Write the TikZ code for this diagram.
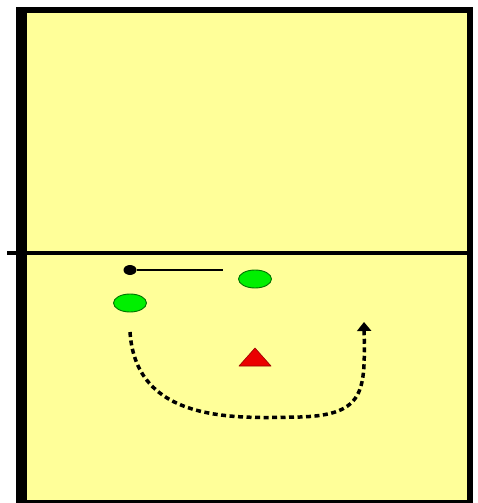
\documentclass[tikz,border=0pt]{standalone}
\usetikzlibrary{arrows.meta,shapes.geometric}

\definecolor{courtyellow}{RGB}{255,255,153}
\definecolor{playergreen}{RGB}{0,240,0}
\definecolor{conered}{RGB}{235,0,0}

\begin{document}
\begin{tikzpicture}[
  x=1pt,y=-1pt,
  player/.style={ellipse,draw=green!45!black,fill=playergreen,line width=0.9pt,
    minimum width=33pt,minimum height=18pt,inner sep=0pt},
  ball/.style={ellipse,fill=black,minimum width=13pt,minimum height=10pt,inner sep=0pt},
  cone/.style={draw=red!60!black,fill=conered,line width=0.6pt,line join=round},
  pass/.style={line width=2pt,black},
  run/.style={line width=3.5pt,dash pattern=on 5pt off 3.5pt,
    -{Triangle[length=9pt,width=14pt]}}
]
  \useasboundingbox (0,0) rectangle (477,503);
  % court
  \fill[black] (16,7) rectangle (473,503);
  \fill[courtyellow] (27,13) rectangle (467,500);
  \draw[line width=4pt] (7,253) -- (473,253);
  % players, ball and cone
  \node[player] (p1) at (130,303) {};
  \node[player] (p2) at (255,279) {};
  \node[ball] (b) at (130,270) {};
  \coordinate (passend) at (223,270);
  \draw[cone] (239,366) -- (255,348) -- (271,366) -- cycle;
  \draw[pass] (b) -- (passend);
  % run around the cone
  \coordinate (runstart) at (130,332);
  \coordinate (runend) at (364,322);
  \draw[run] (runstart) .. controls (136,425) and (240,418) .. (300,417)
    .. controls (366,415) and (365,390) .. (runend);
\end{tikzpicture}
\end{document}
